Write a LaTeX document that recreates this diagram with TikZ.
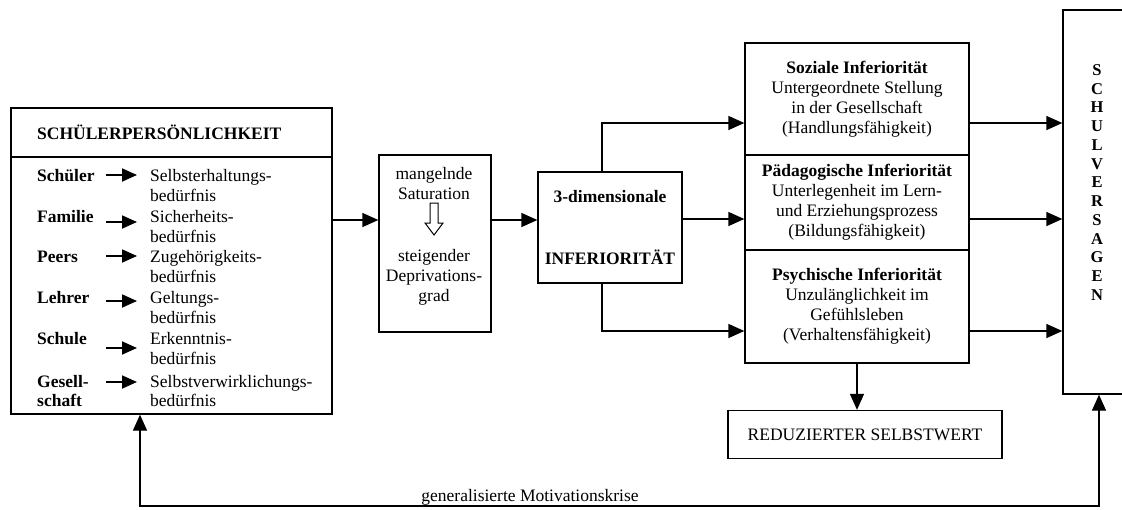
\documentclass[tikz,border=0pt]{standalone}
\usepackage{fontspec}
\setmainfont{Liberation Serif}
\usetikzlibrary{arrows.meta}
\begin{document}
\begin{tikzpicture}[x=1pt,y=-1pt, font=\fontsize{17.5}{20}\selectfont,
  box/.style={draw, line width=1.3pt, rectangle, inner sep=0pt},
  arr/.style={line width=1.3pt, -{Triangle[length=16pt,width=14pt]}},
  sarr/.style={line width=1.8pt, -{Triangle[length=15pt,width=13pt]}},
  lbl/.style={inner sep=0pt, anchor=base west},
  lblb/.style={lbl, font=\fontsize{17.5}{20}\selectfont\bfseries},
  ctext/.style={align=center, inner sep=0pt}]
\useasboundingbox (0,0) rectangle (1122,509);

% left box
\node[box, minimum width=321pt, minimum height=306pt] (sp) at (171.5,261) {};
\coordinate (hs) at (0,157);
\draw[line width=1.3pt] (sp.west |- hs) -- (sp.east |- hs);
\node[lblb] (hd) at (37,139) {SCHÜLERPERSÖNLICHKEIT};
\foreach \i/\y/\a/\b in {1/175/Schüler/Selbsterhaltungs-, 2/216/Familie/Sicherheits-, 3/256/Peers/Zugehörigkeits-, 4/297/Lehrer/Geltungs-, 5/338/Schule/Erkenntnis-}{
  \node[lblb] (ql\i) at (37,\y+6) {\a};
  \node[lbl] (qa\i) at (150,\y+6) {\b};
  \node[lbl] (qb\i) at (150,\y+26) {bedürfnis};
}
\node[lblb] (ql6) at (37,387) {Gesell-};
\node[lblb] (ql6b) at (37,406) {schaft};
\node[lbl] (qa6) at (150,387) {Selbstverwirklichungs-};
\node[lbl] (qb6) at (150,406) {bedürfnis};
\foreach \i/\y in {1/175, 2/222, 3/256, 4/301, 5/348, 6/382}{
  \coordinate (sa\i) at (106,\y);
  \coordinate (sb\i) at (137,\y);
  \draw[sarr] (sa\i) -- (sb\i);
}

% middle box
\node[box, minimum width=112pt, minimum height=177pt] (mid) at (435,243.5) {};
\node[ctext] (midt1) at (434,184) {mangelnde\\Saturation};
\node[ctext] (midt2) at (434,277) {steigender\\Deprivations-\\grad};
\draw[line width=1pt] (430,203) -- (438,203) -- (438,223) -- (443,223) -- (434,235) -- (425,223) -- (430,223) -- cycle;

% 3-dimensional
\node[box, minimum width=144pt, minimum height=111pt, align=center, font=\fontsize{17.5}{20}\selectfont\bfseries] (dim) at (610,227.5) {3-dimensionale\\[42pt]INFERIORITÄT};

% right stacked boxes
\node[box, minimum width=224pt, minimum height=112pt, align=center] (soz) at (857,99) {\textbf{Soziale Inferiorität}\\Untergeordnete Stellung\\in der Gesellschaft\\(Handlungsfähigkeit)};
\node[box, minimum width=224pt, minimum height=95pt, align=center] (paed) at (857,202.5) {\textbf{Pädagogische Inferiorität}\\Unterlegenheit im Lern-\\und Erziehungsprozess\\(Bildungsfähigkeit)};
\node[box, minimum width=224pt, minimum height=113pt, align=center] (psych) at (857,306.5) {\textbf{Psychische Inferiorität}\\Unzulänglichkeit im\\Gefühlsleben\\(Verhaltensfähigkeit)};

% reduced self-worth
\node[box, minimum width=274pt, minimum height=48pt] (red) at (865,434.5) {REDUZIERTER SELBSTWERT};

% Schulversagen
\node[box, minimum width=72pt, minimum height=384pt] (sv) at (1099,202) {};
\node[ctext, font=\fontsize{16.5}{18.75}\selectfont\bfseries] (svt) at (1097,182.5) {S\\C\\H\\U\\L\\V\\E\\R\\S\\A\\G\\E\\N};

% connectors
\coordinate (r0) at (0,220);
\draw[arr] (sp.east |- r0) -- (mid.west |- r0);
\draw[arr] (mid.east |- r0) -- (dim.west |- r0);
\coordinate (bx) at (602,0);
\coordinate (ry1) at (0,123);
\coordinate (ry2) at (0,219);
\coordinate (ry3) at (0,331);
\draw[arr] (dim.north -| bx) |- (soz.west |- ry1);
\draw[arr] (dim.east |- ry2) -- (paed.west |- ry2);
\draw[arr] (dim.south -| bx) |- (psych.west |- ry3);
\draw[arr] (soz.east |- ry1) -- (sv.west |- ry1);
\draw[arr] (paed.east |- ry2) -- (sv.west |- ry2);
\draw[arr] (psych.east |- ry3) -- (sv.west |- ry3);
\draw[arr] (psych.south) -- (psych.south |- red.north);

% feedback loop
\coordinate (fb) at (0,506);
\coordinate (fx) at (140,0);
\draw[line width=1.3pt, {Triangle[length=16pt,width=14pt]}-{Triangle[length=16pt,width=14pt]}]
  (sp.south -| fx) -- (fx |- fb) -- (sv.south |- fb) -- (sv.south);
\node[anchor=south, inner sep=1pt] (mk) at (530,506) {generalisierte Motivationskrise};
\end{tikzpicture}
\end{document}
